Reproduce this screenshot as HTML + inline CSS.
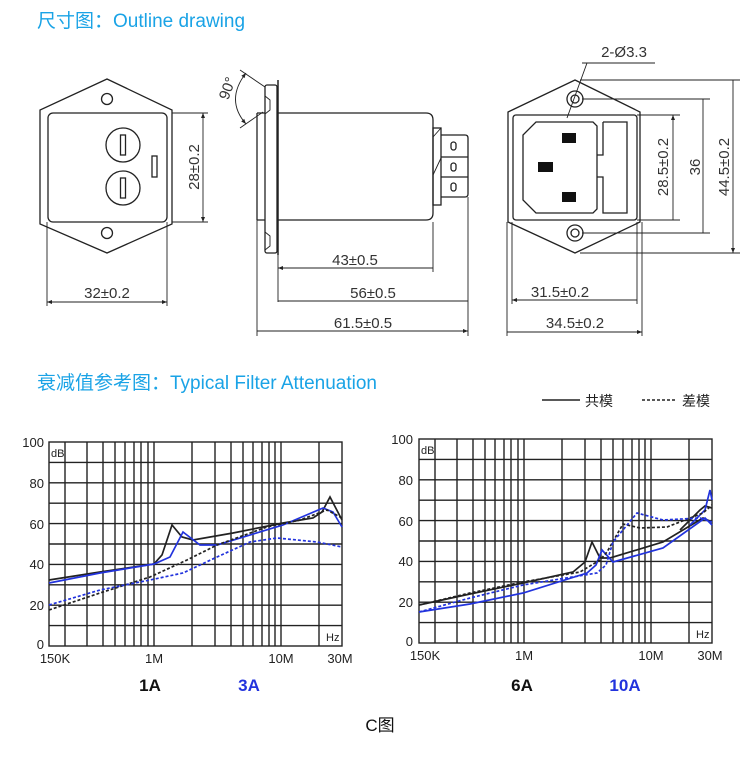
<!DOCTYPE html>
<html><head><meta charset="utf-8"><style>
html,body{margin:0;padding:0;background:#fff;}
svg{display:block;}
text{font-family:"Liberation Sans","Noto Sans CJK SC",sans-serif;}
</style></head><body>
<svg width="750" height="763" viewBox="0 0 750 763" xmlns="http://www.w3.org/2000/svg">
<defs>
<marker id="a" viewBox="0 0 10 10" refX="10" refY="5" markerWidth="7" markerHeight="5" orient="auto-start-reverse" markerUnits="userSpaceOnUse"><path d="M0,1 L10,5 L0,9 Z" fill="#222"/></marker>
</defs>
<text x="37" y="27" font-size="19" fill="#1aa3e6">尺寸图：Outline drawing</text>
<text x="37" y="389" font-size="19" fill="#1aa3e6">衰减值参考图：Typical Filter Attenuation</text>

<g fill="none" stroke="#222" stroke-width="1.3">
<!-- left view -->
<path d="M107,79 L172,110 L172,224 L107,253 L40,224 L40,110 Z"/>
<rect x="48" y="113" width="119" height="109" rx="5"/>
<circle cx="107" cy="99" r="5.5"/><circle cx="107" cy="233" r="5.5"/>
<circle cx="123" cy="145" r="17"/><circle cx="123" cy="188" r="17"/>
<rect x="120.5" y="135" width="5" height="20"/><rect x="120.5" y="178" width="5" height="20"/>
<rect x="152" y="156" width="5" height="21"/>
<path d="M172,113 H208 M172,222 H208" stroke-width="0.9"/>
<path d="M203,113 V222" stroke-width="0.9" marker-start="url(#a)" marker-end="url(#a)"/>
<path d="M47,222 V306 M167,222 V306" stroke-width="0.9"/>
<path d="M47,302 H167" stroke-width="0.9" marker-start="url(#a)" marker-end="url(#a)"/>
<!-- side view -->
<path d="M240,70 L265,87 M240,128 L263,112" stroke-width="0.9"/>
<path d="M246,73 Q225,100 246,124" stroke-width="0.9" marker-start="url(#a)" marker-end="url(#a)"/>
<rect x="265" y="85" width="12" height="168" rx="2"/>
<path d="M278,80 V255" stroke-width="1.5"/>
<path d="M265,96 L270,100 V110 L265,114 M265,232 L270,236 V246 L265,250" stroke-width="0.9"/>
<path d="M257,113 H265 M257,220 H265 M257,113 V220"/>
<path d="M278,113 H426 Q433,113 433,120 V213 Q433,220 426,220 H278"/>
<rect x="433" y="128" width="8" height="77"/>
<path d="M433,137 L441,128 M433,175 L441,158" stroke-width="0.9"/>
<path d="M441,135 H465 Q468,135 468,138 V194 Q468,197 465,197 H441"/>
<path d="M441,157 H468 M441,177 H468"/>
<rect x="451" y="142" width="5" height="8" rx="2.5"/><rect x="451" y="163" width="5" height="8" rx="2.5"/><rect x="451" y="183" width="5" height="8" rx="2.5"/>
<path d="M278,255 V302 M433,222 V272 M468,197 V336 M257,220 V336" stroke-width="0.9"/>
<path d="M278,268 H433 M278,301 H468 M257,331 H468" stroke-width="0.9" marker-start="url(#a)" marker-end="url(#a)"/>
<!-- right view -->
<path d="M575,80 L640,112 L640,222 L575,253 L508,222 L508,112 Z"/>
<rect x="513" y="115" width="124" height="105" rx="3"/>
<circle cx="575" cy="99" r="8"/><circle cx="575" cy="99" r="4"/>
<circle cx="575" cy="233" r="8"/><circle cx="575" cy="233" r="4"/>
<path d="M536,122 H593 L597,126 V209 L593,213 H536 L523,200 V135 Z"/>
<path d="M603,122 H627 V213 H603 V177 H597 M603,122 V155 H597"/>
<path d="M582,63 H655 M587,63 L567,118" stroke-width="0.9"/>
<path d="M637,115 H680 M582,99 H710 M580,80 H740 M637,220 H680 M582,233 H710 M580,253 H740" stroke-width="0.9"/>
<path d="M673,115 V220 M703,99 V233 M733,80 V253" stroke-width="0.9" marker-start="url(#a)" marker-end="url(#a)"/>
<path d="M512,222 V304 M637,222 V304 M507,222 V336 M642,222 V336" stroke-width="0.9"/>
<path d="M512,300 H637 M507,332 H642" stroke-width="0.9" marker-start="url(#a)" marker-end="url(#a)"/>
</g>
<g fill="#111">
<rect x="562" y="133" width="14" height="10"/><rect x="538" y="162" width="15" height="10"/><rect x="562" y="192" width="14" height="10"/>
</g>
<g font-size="15" fill="#333">
<text x="107" y="298" text-anchor="middle">32±0.2</text>
<text transform="translate(199,167) rotate(-90)" text-anchor="middle">28±0.2</text>
<text transform="translate(232,90) rotate(-70)" text-anchor="middle" font-family="Liberation Serif,serif">90°</text>
<text x="355" y="265" text-anchor="middle">43±0.5</text>
<text x="373" y="298" text-anchor="middle">56±0.5</text>
<text x="363" y="328" text-anchor="middle">61.5±0.5</text>
<text x="624" y="57" text-anchor="middle">2-Ø3.3</text>
<text transform="translate(668,167) rotate(-90)" text-anchor="middle">28.5±0.2</text>
<text transform="translate(700,167) rotate(-90)" text-anchor="middle">36</text>
<text transform="translate(729,167) rotate(-90)" text-anchor="middle">44.5±0.2</text>
<text x="560" y="297" text-anchor="middle">31.5±0.2</text>
<text x="575" y="328" text-anchor="middle">34.5±0.2</text>
</g>
<!-- legend -->
<path d="M542,400 H580" stroke="#222" stroke-width="1.5"/>
<text x="585" y="406" font-size="14" fill="#222">共模</text>
<path d="M642,400 H676" stroke="#222" stroke-width="1.5" stroke-dasharray="3,2"/>
<text x="682" y="406" font-size="14" fill="#222">差模</text>

<!-- chart 1 -->
<g stroke="#222" stroke-width="1.4" fill="none">
<rect x="49" y="442" width="293" height="204"/>
<path d="M49,462.4H342M49,482.8H342M49,503.2H342M49,523.6H342M49,544H342M49,564.4H342M49,584.8H342M49,605.2H342M49,625.6H342"/>
<path d="M65,442V646M87,442V646M103,442V646M115,442V646M125,442V646M134,442V646M141,442V646M148,442V646M154,442V646M192,442V646M215,442V646M231,442V646M243,442V646M253,442V646M262,442V646M269,442V646M275,442V646M281,442V646M319,442V646"/>
</g>
<g fill="none" stroke-width="1.7">
<polyline stroke="#222" points="49,580 100,572 154,564 162,555 172,525 182,537 193,540 233,533 283,523 313,518 322,512 330,497 342,520"/>
<polyline stroke="#2233dd" points="49,583 100,573 154,564 170,557 183,532 200,545 217,545 283,525 323,508 333,512 342,527"/>
<polyline stroke="#222" stroke-dasharray="3,2" points="49,610 100,593 150,577 187,560 217,545 267,527 300,520 327,510 342,518"/>
<polyline stroke="#2233dd" stroke-dasharray="3,2" points="49,605 100,590 150,580 183,573 217,557 250,542 277,538 317,542 342,547"/>
</g>
<g font-size="13" fill="#222">
<text x="44" y="447" text-anchor="end">100</text><text x="44" y="488" text-anchor="end">80</text><text x="44" y="529" text-anchor="end">60</text><text x="44" y="569" text-anchor="end">40</text><text x="44" y="610" text-anchor="end">20</text><text x="44" y="649" text-anchor="end">0</text>
<text x="51" y="457" font-size="11">dB</text><text x="326" y="641" font-size="11">Hz</text>
<text x="55" y="663" text-anchor="middle">150K</text><text x="154" y="663" text-anchor="middle">1M</text><text x="281" y="663" text-anchor="middle">10M</text><text x="340" y="663" text-anchor="middle">30M</text>
</g>
<text x="150" y="691" font-size="17" font-weight="bold" fill="#111" text-anchor="middle">1A</text>
<text x="249" y="691" font-size="17" font-weight="bold" fill="#2233dd" text-anchor="middle">3A</text>

<!-- chart 2 -->
<g stroke="#222" stroke-width="1.4" fill="none">
<rect x="419" y="439" width="293" height="204"/>
<path d="M419,459.4H712M419,479.8H712M419,500.2H712M419,520.6H712M419,541H712M419,561.4H712M419,581.8H712M419,602.2H712M419,622.6H712"/>
<path d="M435,439V643M457,439V643M473,439V643M485,439V643M495,439V643M504,439V643M511,439V643M518,439V643M524,439V643M562,439V643M585,439V643M601,439V643M613,439V643M623,439V643M632,439V643M639,439V643M645,439V643M651,439V643M689,439V643"/>
</g>
<g fill="none" stroke-width="1.7">
<polyline stroke="#222" points="419,605 470,594 523,583 573,572 585,562 592,542 600,558 610,558 663,542 703,518 712,522"/>
<polyline stroke="#222" points="680,530 700,510 705,506 712,508"/>
<polyline stroke="#2233dd" points="419,612 470,604 523,593 587,573 596,565 602,550 613,562 663,548 705,518 712,525"/>
<polyline stroke="#2233dd" points="690,525 705,510 710,490 712,500"/>
<polyline stroke="#222" stroke-dasharray="3,2" points="419,605 470,593 523,582 580,572 600,560 607,552 623,524 640,528 667,527 703,513 712,505"/>
<polyline stroke="#2233dd" stroke-dasharray="3,2" points="419,612 470,598 523,585 597,573 606,565 613,542 637,513 663,520 700,518 712,522"/>
</g>
<g font-size="13" fill="#222">
<text x="413" y="444" text-anchor="end">100</text><text x="413" y="485" text-anchor="end">80</text><text x="413" y="526" text-anchor="end">60</text><text x="413" y="566" text-anchor="end">40</text><text x="413" y="607" text-anchor="end">20</text><text x="413" y="646" text-anchor="end">0</text>
<text x="421" y="454" font-size="11">dB</text><text x="696" y="638" font-size="11">Hz</text>
<text x="425" y="660" text-anchor="middle">150K</text><text x="524" y="660" text-anchor="middle">1M</text><text x="651" y="660" text-anchor="middle">10M</text><text x="710" y="660" text-anchor="middle">30M</text>
</g>
<text x="522" y="691" font-size="17" font-weight="bold" fill="#111" text-anchor="middle">6A</text>
<text x="625" y="691" font-size="17" font-weight="bold" fill="#2233dd" text-anchor="middle">10A</text>

<text x="380" y="731" font-size="17" fill="#111" text-anchor="middle">C图</text>
</svg>
</body></html>
